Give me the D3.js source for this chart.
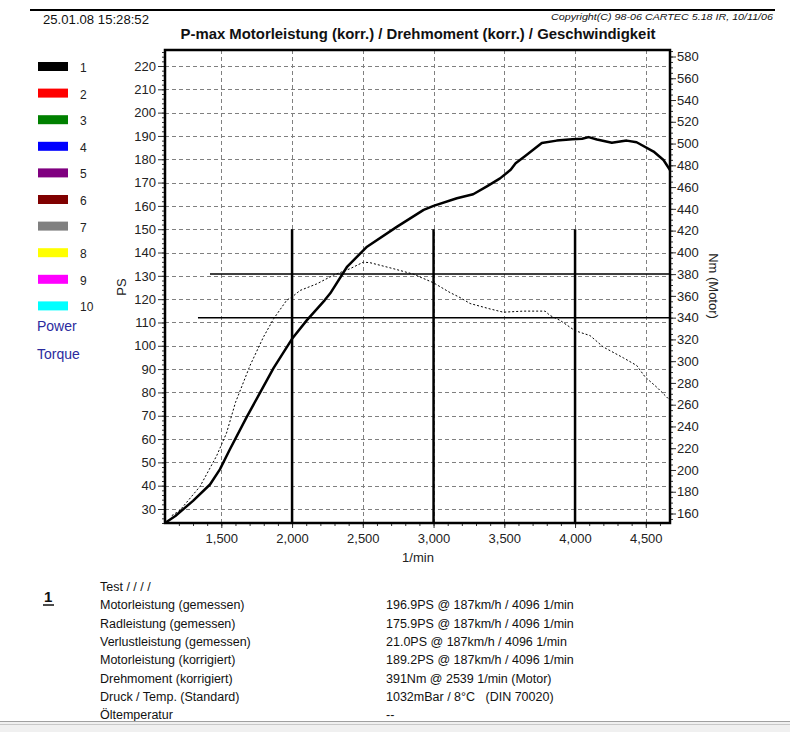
<!DOCTYPE html>
<html>
<head>
<meta charset="utf-8">
<script src="https://cdn.jsdelivr.net/npm/d3@7"></script>
<style>
  body { margin: 0; background: #fff; }
  svg { display: block; font-family: "Liberation Sans", Arial, sans-serif; }
</style>
</head>
<body>
<svg width="790" height="732"></svg>
<script>
// Power curve (PS, corrected)
const powerRpm = [1102, 1175, 1300, 1420, 1490, 1560, 1680, 1775, 1870, 2000, 2105, 2230, 2270, 2390, 2530,
  2740, 2930, 3000, 3165, 3280, 3380, 3470, 3545, 3580, 3650, 3765, 3870, 3980, 4050, 4096, 4155, 4260,
  4365, 4435, 4555, 4625, 4671];
const powerPS = [24, 27, 33.5, 40.5, 47, 55.5, 69.5, 80, 90.5, 103, 111, 119.5, 122.5, 134, 142.5,
  151, 158.3, 160, 163.3, 165, 168.5, 171.8, 175.5, 178.3, 181.5, 187, 188, 188.6, 188.8, 189.5, 188.5, 187.1,
  188, 187.3, 183.3, 179.7, 175.4];

// Torque curve (Nm, motor)
const torqueRpm = [1150, 1208, 1350, 1467, 1537, 1600, 1703, 1797, 1870, 1962, 2000, 2057, 2174, 2292, 2410,
  2504, 2551, 2716, 2857, 3000, 3117, 3187, 3258, 3399, 3493, 3634, 3788, 3823, 3894, 4000, 4106, 4200,
  4342, 4436, 4495, 4578, 4671];
const torqueNm = [158, 163, 185, 213, 234, 262, 296, 322, 339, 356, 359, 365, 371, 379, 385,
  391, 390.5, 385, 380, 372, 363, 358.5, 353, 348, 345, 346, 346, 342, 337.5, 328, 323.5, 313,
  303, 296, 285.5, 276, 264];

// Axis ticks
const rpmTicks = [1500, 2000, 2500, 3000, 3500, 4000, 4500];
const psTicks = d3.range(30, 221, 10);
const nmTicks = d3.range(160, 581, 20);

// Marker lines
const markerRpm = [2000, 3000, 4000];
const markerTopPS = 150;
const refNm = [380, 340];
const refFromRpm = [1420, 1335];

// Legend
const legendNames = ["1", "2", "3", "4", "5", "6", "7", "8", "9", "10"];
const legendColors = ["#000000", "#ff0000", "#008000", "#0000ff", "#800080", "#800000", "#808080", "#ffff00", "#ff00ff", "#00ffff"];

// Result table
const infoLabels = ["Test / / / /", "Motorleistung (gemessen)", "Radleistung (gemessen)", "Verlustleistung (gemessen)",
  "Motorleistung (korrigiert)", "Drehmoment (korrigiert)", "Druck / Temp. (Standard)", "Öltemperatur"];
const infoValues = ["", "196.9PS @ 187km/h / 4096 1/min", "175.9PS @ 187km/h / 4096 1/min", "21.0PS @ 187km/h / 4096 1/min",
  "189.2PS @ 187km/h / 4096 1/min", "391Nm @ 2539 1/min (Motor)", "1032mBar / 8°C   (DIN 70020)", "--"];

const svg = d3.select("svg");
const plot = {left: 165, right: 670, top: 50, bottom: 523};

const x = d3.scaleLinear().domain([1102, 4671]).range([plot.left, plot.right]);
const yPS = d3.scaleLinear().domain([220, 30]).range([66, 509]);
const yNm = d3.scaleLinear().domain([580, 160]).range([56.5, 513.5]);

// Header
svg.append("line").attr("x1", 30).attr("x2", 775).attr("y1", 10).attr("y2", 10)
  .attr("stroke", "#000").attr("stroke-width", 2);
svg.append("text").attr("x", 43).attr("y", 24).attr("font-size", 13).attr("fill", "#111")
  .attr("textLength", 106).attr("lengthAdjust", "spacingAndGlyphs").text("25.01.08 15:28:52");
svg.append("text").attr("x", 773).attr("y", 20).attr("text-anchor", "end").attr("font-size", 9.5)
  .attr("font-style", "italic").attr("fill", "#111")
  .attr("textLength", 222).attr("lengthAdjust", "spacingAndGlyphs")
  .text("Copyright(C) 98-06 CARTEC 5.18 IR, 10/11/06");
svg.append("text").attr("x", 418).attr("y", 39).attr("text-anchor", "middle").attr("font-size", 15)
  .attr("font-weight", "bold").attr("fill", "#111")
  .attr("textLength", 475).attr("lengthAdjust", "spacingAndGlyphs")
  .text("P-max Motorleistung (korr.) / Drehmoment (korr.) / Geschwindigkeit");

// Gridlines
const grid = svg.append("g").attr("stroke", "#808080").attr("stroke-width", 1).attr("stroke-dasharray", "4,3");
grid.selectAll("line.h").data(psTicks).join("line")
  .attr("x1", plot.left).attr("x2", plot.right)
  .attr("y1", d => Math.round(yPS(d)) + 0.5).attr("y2", d => Math.round(yPS(d)) + 0.5);
grid.selectAll("line.v").data(rpmTicks).join("line")
  .attr("y1", plot.top).attr("y2", plot.bottom)
  .attr("x1", d => Math.round(x(d)) + 0.5).attr("x2", d => Math.round(x(d)) + 0.5);

// Axes
const tickText = g => g.selectAll("text").attr("font-size", 13).attr("fill", "#222");
const noDomain = g => g.select(".domain").remove();

svg.append("g").attr("transform", `translate(${plot.left},0)`)
  .call(d3.axisLeft(yPS).tickValues(d3.range(24, 227, 2)).tickSize(3).tickFormat(""))
  .call(noDomain);
svg.append("g").attr("transform", `translate(${plot.left},0)`)
  .call(d3.axisLeft(yPS).tickValues(psTicks).tickSize(7).tickPadding(2))
  .call(noDomain).call(tickText);

svg.append("g").attr("transform", `translate(${plot.right},0)`)
  .call(d3.axisRight(yNm).tickValues(d3.range(155, 586, 5)).tickSize(3).tickFormat(""))
  .call(noDomain);
svg.append("g").attr("transform", `translate(${plot.right},0)`)
  .call(d3.axisRight(yNm).tickValues(nmTicks).tickSize(6).tickPadding(1))
  .call(noDomain).call(tickText);

svg.append("g").attr("transform", `translate(0,${plot.bottom})`)
  .call(d3.axisBottom(x).tickValues(d3.range(1200, 4700, 100)).tickSize(3).tickFormat(""))
  .call(noDomain);
svg.append("g").attr("transform", `translate(0,${plot.bottom})`)
  .call(d3.axisBottom(x).tickValues(rpmTicks).tickSize(5).tickPadding(6).tickFormat(d3.format(",")))
  .call(noDomain).call(tickText);

svg.selectAll(".tick line").attr("stroke", "#333");

// Axis titles
svg.append("text").attr("x", 418).attr("y", 562).attr("text-anchor", "middle").attr("font-size", 13)
  .attr("fill", "#222").text("1/min");
svg.append("text").attr("transform", "translate(126,287) rotate(-90)").attr("text-anchor", "middle")
  .attr("font-size", 13).attr("fill", "#222").text("PS");
svg.append("text").attr("transform", "translate(709,286) rotate(90)").attr("text-anchor", "middle")
  .attr("font-size", 13).attr("fill", "#222").text("Nm  (Motor)");

// Reference lines
svg.selectAll("line.ref").data(refNm).join("line")
  .attr("x1", (d, i) => x(refFromRpm[i])).attr("x2", plot.right)
  .attr("y1", d => yNm(d)).attr("y2", d => yNm(d))
  .attr("stroke", "#000").attr("stroke-width", 1.5);
svg.selectAll("line.marker").data(markerRpm).join("line")
  .attr("x1", d => x(d)).attr("x2", d => x(d))
  .attr("y1", plot.bottom).attr("y2", yPS(markerTopPS))
  .attr("stroke", "#000").attr("stroke-width", 2.5);

// Curves
const powerData = powerRpm.map((r, i) => [r, powerPS[i]]);
const torqueData = torqueRpm.map((r, i) => [r, torqueNm[i]]);

svg.append("path").datum(torqueData)
  .attr("fill", "none").attr("stroke", "#000").attr("stroke-width", 1).attr("stroke-dasharray", "2,2")
  .attr("d", d3.line().x(d => x(d[0])).y(d => yNm(d[1])));

svg.append("path").datum(powerData)
  .attr("fill", "none").attr("stroke", "#000").attr("stroke-width", 2.5).attr("stroke-linejoin", "round")
  .attr("d", d3.line().x(d => x(d[0])).y(d => yPS(d[1])));

// Frame
svg.append("rect").attr("x", plot.left).attr("y", plot.top)
  .attr("width", plot.right - plot.left).attr("height", plot.bottom - plot.top)
  .attr("fill", "none").attr("stroke", "#000").attr("stroke-width", 2.5);

// Legend
const legend = svg.append("g");
legend.selectAll("rect").data(legendColors).join("rect")
  .attr("x", 38).attr("y", (d, i) => 62 + i * 26.6).attr("width", 30).attr("height", 9)
  .attr("fill", d => d);
legend.selectAll("text").data(legendNames).join("text")
  .attr("x", 80).attr("y", (d, i) => 72 + i * 26.6).attr("font-size", 12).attr("fill", "#222")
  .text(d => d);
svg.append("text").attr("x", 37).attr("y", 331).attr("font-size", 14).attr("fill", "#2b2b9e").text("Power");
svg.append("text").attr("x", 37).attr("y", 359).attr("font-size", 14).attr("fill", "#2b2b9e").text("Torque");

// Result table
svg.append("text").attr("x", 44).attr("y", 602).attr("font-size", 15).attr("font-weight", "bold")
  .attr("fill", "#111").text("1");
svg.append("line").attr("x1", 43).attr("x2", 54).attr("y1", 605).attr("y2", 605)
  .attr("stroke", "#111").attr("stroke-width", 1.5);
svg.selectAll("text.lab").data(infoLabels).join("text")
  .attr("x", 100).attr("y", (d, i) => 591 + i * 18.3).attr("font-size", 12.5).attr("fill", "#111")
  .text(d => d);
svg.selectAll("text.val").data(infoValues).join("text")
  .attr("x", 386).attr("y", (d, i) => 591 + i * 18.3).attr("font-size", 12.5).attr("fill", "#111")
  .attr("xml:space", "preserve").style("white-space", "pre")
  .text(d => d);

// Bottom bar
svg.append("rect").attr("x", 0).attr("y", 721).attr("width", 790).attr("height", 11).attr("fill", "#f0f0f0");
svg.append("line").attr("x1", 0).attr("x2", 790).attr("y1", 721.5).attr("y2", 721.5).attr("stroke", "#a0a0a0");
svg.append("line").attr("x1", 0).attr("x2", 790).attr("y1", 724.5).attr("y2", 724.5).attr("stroke", "#c8c8c8");
</script>
</body>
</html>
